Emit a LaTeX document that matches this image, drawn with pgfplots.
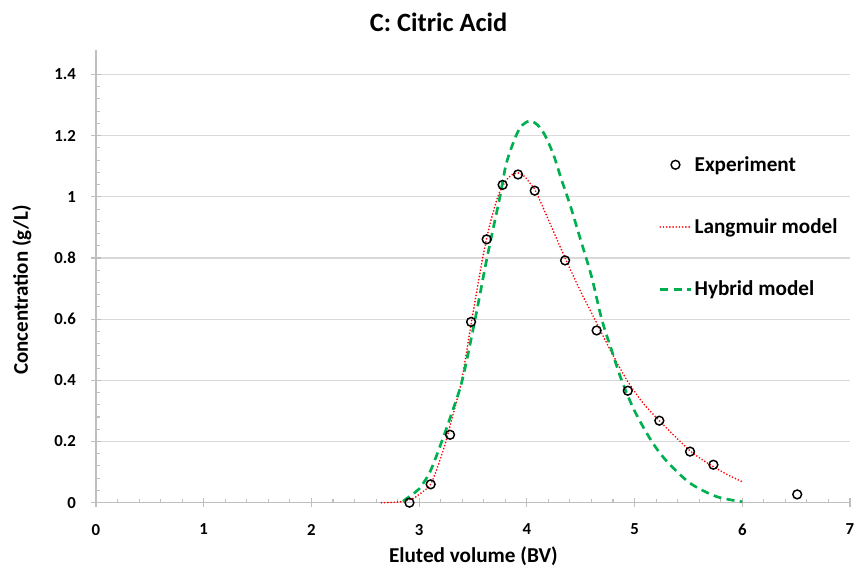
\documentclass[border=0pt]{standalone}
\usepackage{pgfplots}
\pgfplotsset{compat=1.18}
\usepackage{fontspec}
\setmainfont{Carlito}
\definecolor{gridc}{HTML}{D9D9D9}
\definecolor{axc}{HTML}{BFBFBF}
\definecolor{hyb}{HTML}{00B050}
\begin{document}
\begin{tikzpicture}
\path[use as bounding box] (-72pt,-52pt) rectangle (571.5pt,377pt);
\begin{axis}[
  scale only axis, width=565.5pt, height=339.5pt,
  xmin=0, xmax=7, ymin=0, ymax=1.48,
  axis lines=left, axis line style={-, draw=axc, line width=0.9pt},
  xtick={0,1,2,3,4,5,6,7},
  ytick={0,0.2,0.4,0.6,0.8,1,1.2,1.4},
  minor x tick num=4, minor y tick num=4,
  tick align=center,
  major tick length=7pt, minor tick length=3pt,
  every minor x tick/.append style={yshift=1.5pt},
  every minor y tick/.append style={xshift=1.5pt},
  tick style={draw=axc, line width=0.8pt},
  ymajorgrids, major grid style={draw=gridc, line width=0.9pt},
  /pgf/number format/assume math mode=true,
  ticklabel style={font=\fontsize{12.6}{15}\selectfont\bfseries},
  xticklabel style={yshift=-9pt},
  yticklabel style={xshift=-8pt},
  clip=false,
  legend style={at={(rel axis cs:0.741,0.609)}, anchor=west, draw=none, fill=none,
    font=\fontsize{15.9}{18}\selectfont\bfseries, row sep=30pt,
    cells={anchor=west}},
  legend image code/.code={\draw[mark repeat=2,mark phase=2,#1] plot coordinates {(0cm,0cm) (0.4cm,0cm) (0.8cm,0cm)};},
]
\addplot[only marks, mark=o, mark size=3.3pt, mark options={draw=black, line width=1.1pt}] coordinates {
(2.91,0.0) (3.107,0.060) (3.287,0.222) (3.482,0.591) (3.627,0.861) (3.775,1.039)
(3.918,1.073) (4.073,1.020) (4.355,0.792) (4.648,0.563) (4.937,0.366) (5.23,0.268)
(5.515,0.167) (5.732,0.124) (6.51,0.027)};
\addlegendentry{Experiment}
\addplot[red, line width=1.4pt, line cap=round, dash pattern=on 0pt off 2.4pt, smooth, tension=0.4] coordinates {
(2.65,0.000) (2.75,0.001) (2.85,0.004) (2.95,0.015) (3.05,0.040) (3.107,0.060)
(3.17,0.115) (3.24,0.190) (3.29,0.255) (3.395,0.400) (3.49,0.600) (3.59,0.800)
(3.65,0.900) (3.73,1.000) (3.80,1.050) (3.86,1.072) (3.92,1.078) (3.98,1.066)
(4.05,1.035) (4.08,1.020) (4.20,0.925) (4.355,0.800) (4.50,0.690) (4.63,0.600)
(4.78,0.495) (4.93,0.400) (5.08,0.325) (5.23,0.268) (5.38,0.215) (5.52,0.168)
(5.63,0.140) (5.73,0.118) (5.86,0.092) (6.00,0.068)};
\addlegendentry{Langmuir model}
\addplot[hyb, line width=2pt, dash pattern=on 6pt off 4pt, smooth, tension=0.5] coordinates {
(2.85,0.005) (2.95,0.030) (3.00,0.045) (3.10,0.100) (3.21,0.200) (3.30,0.290)
(3.40,0.400) (3.52,0.600) (3.63,0.800) (3.75,1.000) (3.81,1.110) (3.90,1.200)
(3.96,1.235) (4.03,1.248) (4.10,1.235) (4.17,1.200) (4.25,1.135) (4.32,1.058)
(4.40,0.975) (4.49,0.870) (4.60,0.740) (4.695,0.600) (4.79,0.495) (4.88,0.400)
(5.00,0.300) (5.16,0.200) (5.30,0.135) (5.515,0.064) (5.76,0.020) (6.00,0.003)};
\addlegendentry{Hybrid model}
\end{axis}
\node[anchor=base, font=\fontsize{19.8}{23}\selectfont\bfseries] at (257pt,353pt) {C: Citric Acid};
\node[anchor=base, font=\fontsize{15.9}{18}\selectfont\bfseries] at (283pt,-44.5pt) {Eluted volume (BV)};
\node[anchor=base, rotate=90, font=\fontsize{15.7}{18}\selectfont\bfseries] at (-51pt,159.5pt) {Concentration (g/L)};
\end{tikzpicture}
\end{document}
